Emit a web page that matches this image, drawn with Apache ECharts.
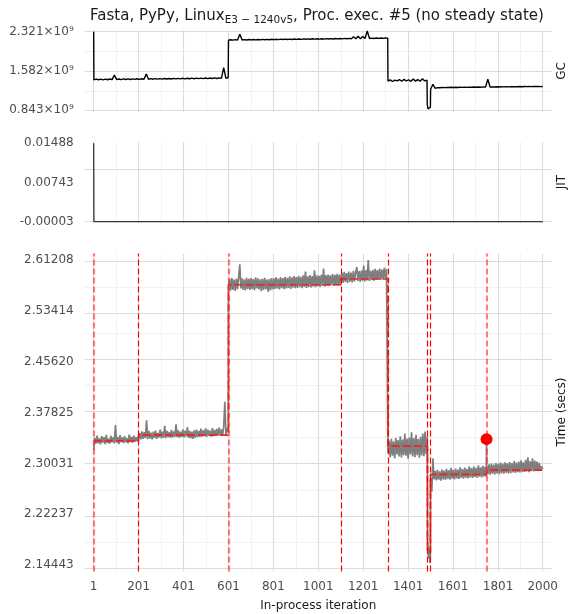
<!DOCTYPE html>
<html><head><meta charset="utf-8">
<script src="https://cdn.jsdelivr.net/npm/echarts@6/dist/echarts.min.js"></script>
<style>html,body{margin:0;padding:0;background:#fff}#c{width:568px;height:614px}</style>
</head><body><div id="c"></div>
<script>
// ---------- tick labels ----------
const xMajor = [1,201,401,601,801,1001,1201,1401,1601,1801,2000];
const xMinor = [101,301,501,701,901,1101,1301,1501,1701,1901];
const gcMajor = [0.843,1.582,2.321];          // ×10^9
const gcMinor = [1.2125,1.9515];
const jitMajor = [-0.00003,0.00743,0.01488];
const jitMinor = [0.0037,0.011155];
const tMajor = [2.14443,2.22237,2.30031,2.37825,2.45620,2.53414,2.61208];
const tMinor = [2.1834,2.26134,2.33928,2.417225,2.49517,2.57311];

// ---------- GC (×10^9) ----------
const gcFirst = 2.321;
const gcA = [1.4150,1.4280,1.4170,1.4300,1.4160,1.4290,1.4180,1.4310,1.4190,1.5070,
 1.4200,1.4320,1.4210,1.4330,1.4220,1.4340,1.4230,1.4350,1.4240,1.4360,
 1.4250,1.4370,1.4260,1.5250,1.4270,1.4380,1.4280,1.4390,1.4290,1.4400,
 1.4300,1.4410,1.4310,1.4420,1.4320,1.4430,1.4330,1.4440,1.4340,1.4450,
 1.4350,1.4460,1.4360,1.4470,1.4370,1.4480,1.4380,1.4490,1.4390,1.4500,
 1.4400,1.4510,1.4410,1.4520,1.4420,1.4530,1.4430,1.6440,1.4450,1.4600];
const gcB = [2.1600,2.1700,2.1620,2.1710,2.1630,2.2720,2.1640,2.1720,2.1650,2.1730,
 2.1660,2.1740,2.1670,2.1750,2.1680,2.1760,2.1690,2.1770,2.1700,2.1780,
 2.1710,2.1790,2.1720,2.1800,2.1730,2.1810,2.1740,2.1820,2.1750,2.1830,
 2.1760,2.1840,2.1770,2.1850,2.1780,2.1860,2.1790,2.1870,2.1800,2.1880,
 2.1810,2.1890,2.1820,2.1900,2.1830,2.1910,2.1840,2.1920,2.1850,2.1930,
 2.1860,2.1940,2.1870,2.1950,2.1880,2.2250,2.1890,2.2350,2.1900,2.2300,
 2.1910,2.3340,2.1920,2.2000,2.1930,2.2010,2.1940,2.2020,2.1950,2.2030,2.2000];
const gcC = [1.3900,1.4150,1.3850,1.4100,1.3950,1.4200,1.3900,1.4250,1.3950,1.4150,
 1.3880,1.4300,1.3920,1.4200,1.3900,1.4350,1.3950,1.4100];
const gcD = [0.9500,0.8700,0.8430,0.8550,0.9000];
const gcE = [1.2400,1.3320,1.2550,1.2700,1.2680,1.2730,1.2700,1.2750,1.2710,1.2760,
 1.2720,1.2770,1.2730,1.2780,1.2740,1.2790,1.2750,1.2780,1.2760,1.2800,
 1.2770,1.2810,1.2780,1.2820,1.2790,1.4260,1.2800,1.2840,1.2810,1.2850,
 1.2820,1.2860,1.2830,1.2870,1.2840,1.2880,1.2850,1.2890,1.2860,1.2900,
 1.2870,1.2910,1.2880,1.2920,1.2890,1.2930,1.2900,1.2920,1.2890,1.2910];

// ---------- JIT ----------
const jitIter = [1,2,2000];
const jitVals = [0.01488,0,0];

// ---------- Time (secs) ----------
const tA = [2.3210,2.3395,2.3305,2.3430,2.3310,2.3385,2.3295,2.3420,2.3320,2.3405,
 2.3300,2.3440,2.3315,2.3380,2.3305,2.3425,2.3325,2.3400,2.3310,2.3590,
 2.3320,2.3410,2.3300,2.3435,2.3330,2.3400,2.3315,2.3420,2.3325,2.3390,
 2.3310,2.3445,2.3330,2.3410,2.3320,2.3430,2.3335,2.3405,2.3340,2.3425];
const tB = [2.3385,2.3470,2.3370,2.3495,2.3380,2.3480,2.3390,2.3665,2.3375,2.3500,
 2.3385,2.3475,2.3370,2.3490,2.3395,2.3505,2.3380,2.3470,2.3400,2.3520,
 2.3385,2.3490,2.3395,2.3580,2.3390,2.3500,2.3405,2.3485,2.3395,2.3515,
 2.3400,2.3495,2.3410,2.3600,2.3405,2.3510,2.3395,2.3490,2.3410,2.3525,
 2.3400,2.3505,2.3415,2.3560,2.3395,2.3500,2.3385,2.3490,2.3380,2.3510,
 2.3395,2.3520,2.3405,2.3500,2.3410,2.3535,2.3415,2.3510,2.3420,2.3540,
 2.3410,2.3520,2.3425,2.3505,2.3415,2.3545,2.3420,2.3515,2.3430,2.3530,
 2.3425,2.3550,2.3430,2.3525,2.3435,2.3560,2.3946,2.3440,2.3545,2.3480];
const tC = [2.5700,2.5825,2.5650,2.5840,2.5660,2.5815,2.5645,2.5830,2.5670,2.5850,
 2.6050,2.5680,2.5835,2.5660,2.5820,2.5650,2.5845,2.5675,2.5830,2.5660,
 2.5840,2.5670,2.5825,2.5655,2.5850,2.5680,2.5835,2.5665,2.5820,2.5640,
 2.5830,2.5660,2.5845,2.5670,2.5815,2.5630,2.5825,2.5650,2.5840,2.5665,
 2.5835,2.5675,2.5850,2.5680,2.5830,2.5665,2.5855,2.5685,2.5840,2.5670,
 2.5860,2.5680,2.5845,2.5690,2.5865,2.5675,2.5850,2.5695,2.5870,2.5685,
 2.5855,2.5690,2.5875,2.5700,2.5860,2.5685,2.5880,2.5705,2.5940,2.5690,
 2.5865,2.5705,2.5885,2.5695,2.5870,2.5710,2.5960,2.5700,2.5880,2.5715,
 2.5875,2.5705,2.5890,2.5720,2.5985,2.5710,2.5885,2.5725,2.5895,2.5715,
 2.5880,2.5730,2.5900,2.5720,2.5890,2.5735,2.5905,2.5725,2.5895,2.5740];
const tD = [2.5790,2.5920,2.5770,2.5935,2.5780,2.5915,2.5765,2.5940,2.5785,2.5925,
 2.5775,2.5950,2.5790,2.5930,2.6010,2.5795,2.5945,2.5780,2.5955,2.5800,
 2.6030,2.5790,2.5960,2.5805,2.6116,2.5795,2.5950,2.5810,2.5965,2.5800,
 2.5980,2.5815,2.5960,2.5820,2.5985,2.5810,2.5970,2.5825,2.5995,2.5830,
 2.5980,2.5960];
const tE = [2.3160,2.3350,2.3100,2.3380,2.3120,2.3340,2.3080,2.3390,2.3140,2.3360,
 2.3110,2.3420,2.3095,2.3370,2.3130,2.3460,2.3120,2.3385,2.3075,2.3400,
 2.3140,2.3480,2.3110,2.3390,2.3100,2.3440,2.3130,2.3375,2.3090,2.3410,
 2.3125,2.3460,2.3115,2.3490,2.3150,2.3420];
const tF = [2.1850,2.1600,2.1720,2.1550,2.1680,2.1480,2.1620];
const tG = [2.2780,2.2569,2.3080,2.2760,2.2890,2.2745,2.2905,2.2755,2.2880,2.2740,
 2.2910,2.2760,2.2895,2.2750,2.2920,2.2765,2.2900,2.2755,2.2935,2.2770,
 2.2905,2.2760,2.2925,2.2775,2.2910,2.2765,2.2945,2.2780,2.2915,2.2770,
 2.2940,2.2785,2.2920,2.2775,2.2960,2.2790,2.2930,2.2780,2.2955,2.2795,
 2.2935,2.2785,2.2975,2.2800,2.2945,2.2790,2.2965,2.2805,2.2950,2.2800];
const outlierIter = 1750, outlierVal = 2.3375;
const tH = [2.2900,2.2840,2.2990,2.2830,2.3000,2.2845,2.2985,2.2835,2.3010,2.2850,
 2.2995,2.2840,2.3015,2.2855,2.3000,2.2845,2.3020,2.2860,2.3005,2.2850,
 2.3025,2.2855,2.3010,2.2865,2.3040,2.2860,2.3015,2.2870,2.3030,2.2865,
 2.3050,2.2870,2.3020,2.2875,2.3060,2.2880,2.3095,2.2870,2.3035,2.2885,
 2.3080,2.2880,2.3045,2.2890,2.3030,2.2885,2.3010,2.2895,2.2960,2.2920];

// segment means (step) and changepoints
const meanStarts = [1,201,601,1101,1311,1487,1500,1750,2000];
const meanVals = [2.3349,2.3436,2.5738,2.5826,2.3268,2.1650,2.2835,2.2901,2.2901];
const cpThin = [201,1101,1311,1487,1500];
const cpWide = [1,601,1750];

// ---------- build ----------
function seg(a,b,vals){return vals.map((v,i)=>[vals.length>1? a+i*(b-a)/(vals.length-1):a, v]);}
const gcData = [[1,gcFirst]].concat(seg(2,600,gcA),seg(601,1310,gcB),seg(1311,1485,gcC),seg(1486,1500,gcD),seg(1501,2000,gcE));
const jitData = jitIter.map((x,i)=>[x,jitVals[i]]);
const tData = [].concat(seg(1,200,tA),seg(201,600,tB),seg(601,1100,tC),seg(1101,1310,tD),seg(1311,1486,tE),seg(1487,1500,tF),seg(1501,1749,tG),[[outlierIter,outlierVal]],seg(1751,2000,tH));
const meanData = meanStarts.map((x,i)=>[x,meanVals[i]]);

function pad(lo,hi){const d=(hi-lo)*0.02;return [lo-d,hi+d];}
const xr = pad(1,2000), gr = pad(0.843,2.321), jr = pad(-0.00003,0.01488), tr = pad(2.14443,2.61208);

const FONT='DejaVu Sans';
const major={color:'#dcdcdc',width:1.1,type:'solid'}, minor={color:'#ececec',width:0.7,type:'solid'};
function gridLines(idx, yMaj, yMin){
  const d=[];
  xMinor.forEach(v=>d.push({xAxis:v,lineStyle:minor}));
  yMin.forEach(v=>d.push({yAxis:v,lineStyle:minor}));
  xMajor.forEach(v=>d.push({xAxis:v,lineStyle:major}));
  yMaj.forEach(v=>d.push({yAxis:v,lineStyle:major}));
  return {type:'line',xAxisIndex:idx,yAxisIndex:idx,data:[],z:0,silent:true,
    markLine:{z:0,zlevel:0,silent:true,symbol:['none','none'],label:{show:false},animation:false,emphasis:{disabled:true},data:d}};
}
const L=84.7, W=467;
const grids=[{left:L,width:W,top:30.1,height:81.8,outerBoundsMode:'none',containLabel:false},
             {left:L,width:W,top:141.7,height:81.6,outerBoundsMode:'none',containLabel:false},
             {left:L,width:W,top:253.6,height:317.8,outerBoundsMode:'none',containLabel:false}];
function xAx(i){return {type:'value',gridIndex:i,min:xr[0],max:xr[1],axisLine:{show:false},axisTick:{show:false},splitLine:{show:false},
  axisLabel:{show:i===2,customValues:xMajor,formatter:v=>String(v),margin:9,fontFamily:FONT,fontSize:12,color:'#4d4d4d'},
  name:i===2?'In-process iteration':'',nameLocation:'middle',nameGap:28,nameTextStyle:{fontFamily:FONT,fontSize:12,color:'#1a1a1a'}};}
function yAx(i,r,vals,fmt){return {type:'value',gridIndex:i,min:r[0],max:r[1],axisLine:{show:false},axisTick:{show:false},splitLine:{show:false},
  axisLabel:{customValues:vals,formatter:fmt,margin:11,fontFamily:FONT,fontSize:12,color:'#4d4d4d'}};}

const option={
  animation:false,
  backgroundColor:'#fff',
  title:{left:312,top:1,textAlign:'center',text:'{m|Fasta, PyPy, Linux}{s|E3 − 1240v5}{m|, Proc. exec. #5 (no steady state)}',
    textStyle:{fontWeight:'normal',rich:{m:{fontFamily:FONT,fontSize:15,fontWeight:'normal',color:'#1a1a1a',lineHeight:20},s:{fontFamily:FONT,fontSize:10.5,fontWeight:'normal',color:'#1a1a1a',lineHeight:12,verticalAlign:'bottom'}}}},
  grid:grids,
  xAxis:[xAx(0),xAx(1),xAx(2)],
  yAxis:[yAx(0,gr,gcMajor,v=>v.toFixed(3)+'×10⁹'),yAx(1,jr,jitMajor,v=>v.toFixed(5)),yAx(2,tr,tMajor,v=>v.toFixed(5))],
  graphic:[
    {type:'text',x:562,y:71,rotation:Math.PI/2,style:{text:'GC',fontFamily:FONT,fontSize:12,fill:'#1a1a1a',align:'center',verticalAlign:'middle'}},
    {type:'text',x:562,y:182,rotation:Math.PI/2,style:{text:'JIT',fontFamily:FONT,fontSize:12,fill:'#1a1a1a',align:'center',verticalAlign:'middle'}},
    {type:'text',x:562,y:412,rotation:Math.PI/2,style:{text:'Time (secs)',fontFamily:FONT,fontSize:12,fill:'#1a1a1a',align:'center',verticalAlign:'middle'}}
  ],
  series:[
    gridLines(0,gcMajor,gcMinor),
    gridLines(1,jitMajor,jitMinor),
    gridLines(2,tMajor,tMinor),
    {type:'line',xAxisIndex:0,yAxisIndex:0,data:gcData,showSymbol:false,symbol:'none',z:3,lineStyle:{color:'#000',width:1.4},silent:true},
    {type:'line',xAxisIndex:1,yAxisIndex:1,data:jitData,showSymbol:false,symbol:'none',z:3,lineStyle:{color:'#333',width:1.3},silent:true},
    {type:'line',xAxisIndex:2,yAxisIndex:2,data:tData,showSymbol:false,symbol:'none',z:3,lineStyle:{color:'#7f7f7f',width:1.7},silent:true},
    {type:'line',xAxisIndex:2,yAxisIndex:2,data:meanData,step:'end',showSymbol:false,symbol:'none',z:5,lineStyle:{color:'#e8261f',width:1.6,type:[8,3]},silent:true},
    {type:'line',xAxisIndex:2,yAxisIndex:2,data:[],z:6,silent:true,
      markLine:{z:6,silent:true,symbol:['none','none'],label:{show:false},animation:false,
        data:cpThin.map(v=>({xAxis:v,lineStyle:{color:'#ff0000',width:1.2,type:[6,3]}})).concat(
             cpWide.map(v=>({xAxis:v,lineStyle:{color:'rgba(255,40,40,0.6)',width:2.2,type:[6,3]}})))}},
    {type:'scatter',xAxisIndex:2,yAxisIndex:2,data:[[outlierIter,outlierVal]],symbolSize:12,itemStyle:{color:'#ff0000',opacity:1},z:7,silent:true}
  ]
};
echarts.init(document.getElementById('c'),null,{renderer:'canvas'}).setOption(option);
</script></body></html>
